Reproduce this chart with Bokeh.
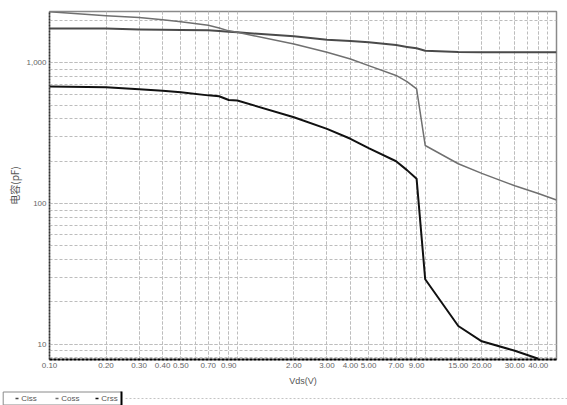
from bokeh.plotting import figure
from bokeh.models import Range1d, FixedTicker, NumeralTickFormatter
from bokeh.layouts import column
from bokeh.embed import file_html
from bokeh.resources import INLINE
from bokeh.core.properties import value

# ---- data ----
vds = [0.1, 0.2, 0.3, 0.4, 0.5, 0.7, 0.8, 0.9, 1, 2, 3, 4, 5, 7, 8, 9, 10, 15, 20, 30, 40, 50]
ciss = [1760, 1760, 1730, 1720, 1715, 1705, 1685, 1665, 1650, 1545, 1463, 1430, 1400, 1340, 1300, 1270,
        1222, 1196, 1193, 1191, 1190, 1190]
coss = [2310, 2165, 2100, 2030, 1960, 1850, 1770, 1690, 1650, 1364, 1190, 1067, 957, 815, 737, 654,
        259, 192, 164, 134, 118, 106]
crss = [680, 672, 650, 635, 619, 588, 580, 545, 540, 411, 340, 289, 248, 200, 173, 150,
        29, 13.5, 10.5, 9.0, 7.9, float("nan")]

series_names = ["Ciss", "Coss", "Crss"]
series_colors = ["#4a4a4a", "#707070", "#111111"]
series_widths = [2, 1.5, 2]

x_tick_labels = [0.1, 0.2, 0.3, 0.4, 0.5, 0.7, 0.9, 2, 3, 4, 5, 7, 9, 15, 20, 30, 40]
x_grid_vals = [0.1, 0.2, 0.3, 0.4, 0.5, 0.6, 0.7, 0.8, 0.9, 1, 2, 3, 4, 5, 6, 7, 8, 9,
               10, 15, 20, 25, 30, 35, 40, 45, 50]
y_tick_labels = [10, 100, 1000]
y_grid_vals = [8, 9, 10, 20, 30, 40, 50, 60, 70, 80, 90, 100, 200, 300, 400, 500, 600, 700, 800, 900,
               1000, 2000]

x_label = "Vds(V)"
y_label = "电容(pF)"

FONT = "Liberation Sans"

p = figure(width=567, height=388, x_axis_type="log", y_axis_type="log",
           x_range=Range1d(0.1, 50), y_range=Range1d(7.8, 2320),
           toolbar_location=None, output_backend="svg",
           min_border_left=49, min_border_right=11, min_border_top=11, min_border_bottom=28)
p.background_fill_color = "white"
p.border_fill_color = "white"
p.outline_line_color = "#8a8a8a"
p.outline_line_width = 1.5

xt = FixedTicker(ticks=x_tick_labels, minor_ticks=x_grid_vals)
yt = FixedTicker(ticks=y_tick_labels, minor_ticks=y_grid_vals)
p.xaxis.ticker = xt
p.yaxis.ticker = yt
p.xgrid.ticker = xt
p.ygrid.ticker = yt
p.xaxis.formatter = NumeralTickFormatter(format="0.00")
p.yaxis.formatter = NumeralTickFormatter(format="0,0")

for g in (p.xgrid, p.ygrid):
    g.grid_line_color = "#bdbdbd"
    g.grid_line_dash = "3 2"
    g.grid_line_width = 1
    g.minor_grid_line_color = "#bdbdbd"
    g.minor_grid_line_dash = "3 2"
    g.minor_grid_line_width = 1

for ax in (p.xaxis, p.yaxis):
    ax.major_tick_line_color = None
    ax.minor_tick_line_color = None
    ax.major_tick_out = 0
    ax.minor_tick_out = 0
    ax.major_label_text_font = FONT
    ax.major_label_text_font_size = "8px"
    ax.major_label_text_color = "#666666"
    ax.axis_label_text_font_style = "normal"
    ax.axis_label_text_color = "#555555"

p.xaxis.major_label_standoff = 3
p.xaxis.axis_label_standoff = 5
p.yaxis.major_label_standoff = 3
p.yaxis.axis_label_standoff = 1

p.xaxis.axis_label = x_label
p.xaxis.axis_label_text_font = FONT
p.xaxis.axis_label_text_font_size = "9px"
p.yaxis.axis_label = y_label
p.yaxis.axis_label_text_font = "Noto Sans CJK SC"
p.yaxis.axis_label_text_font_size = "10px"

p.xaxis.axis_line_color = "black"
p.xaxis.axis_line_width = 2
p.xaxis.axis_line_dash = "3 1"
p.yaxis.axis_line_color = "#333333"
p.yaxis.axis_line_width = 1.5
p.yaxis.axis_line_dash = "2 1"

for vals, name, col, w in zip([ciss, coss, crss], series_names, series_colors, series_widths):
    p.line(vds, vals, line_color=col, line_width=w, line_join="round")

# ---- legend strip (checkbox style) ----
leg = figure(width=567, height=17, x_range=Range1d(0, 567), y_range=Range1d(0, 17),
             toolbar_location=None, output_backend="svg",
             x_axis_location=None, y_axis_location=None,
             min_border=0, min_border_left=0, min_border_right=0, min_border_top=0, min_border_bottom=0)
leg.grid.visible = False
leg.outline_line_color = None
leg.background_fill_color = "white"
leg.border_fill_color = "white"

for fig in (p, leg):
    try:
        fig.frame_align = False
    except Exception:
        pass

box_left, box_right = 2.7, 121
leg.quad(left=box_left, right=box_right, bottom=0.5, top=13.5, fill_color="white",
         line_color="#8a8a8a", line_width=1)
leg.segment(x0=box_right, y0=0, x1=box_right, y1=14, line_color="black", line_width=2)
leg.segment(x0=125, y0=7, x1=567, y1=7, line_color="#c4c4c4", line_dash="2 2", line_width=1)

cb_x = [8.5, 48.5, 88.5]
leg.scatter(x=cb_x, y=[7] * 3, marker="square_check", size=9, line_color="#333333",
            fill_color="white", line_width=1)
leg.segment(x0=[c + 6.5 for c in cb_x], y0=[7] * 3, x1=[c + 9.5 for c in cb_x], y1=[7] * 3,
            line_color=series_colors, line_width=1.5)
leg.text(x=[c + 12.3 for c in cb_x], y=[7] * 3, text=series_names, text_font=value(FONT),
         text_font_size="8px", text_baseline="middle", text_color="#555555")

layout = column(p, leg, spacing=0)
open("out.html", "w").write(file_html(layout, INLINE))
